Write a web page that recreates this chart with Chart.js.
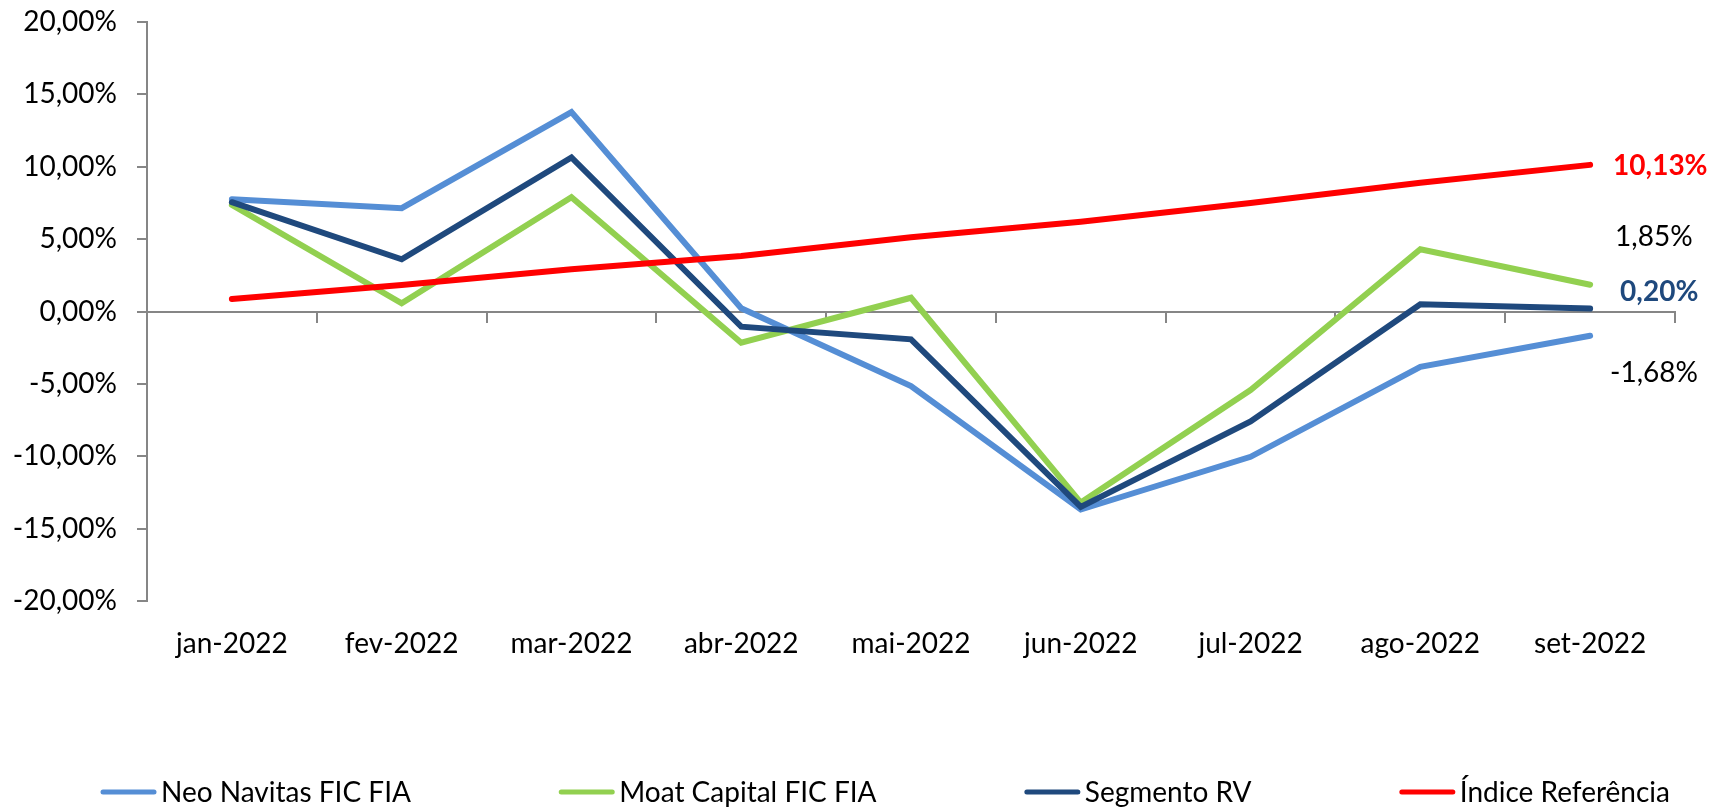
<!DOCTYPE html>
<html>
<head>
<meta charset="utf-8">
<script src="https://cdn.jsdelivr.net/npm/chart.js@4/dist/chart.umd.min.js"></script>
<style>
  html, body { margin: 0; padding: 0; background: #ffffff; }
  #wrap { width: 1725px; height: 808px; position: relative; }
</style>
</head>
<body>
<div id="wrap"><canvas id="c"></canvas></div>
<script>
// ---- data ----
const categories = ['jan-2022', 'fev-2022', 'mar-2022', 'abr-2022', 'mai-2022', 'jun-2022', 'jul-2022', 'ago-2022', 'set-2022'];
const seriesNames = ['Neo Navitas FIC FIA', 'Moat Capital FIC FIA', 'Segmento RV', 'Índice Referência'];
const neoNavitas = [7.76, 7.14, 13.78, 0.22, -5.15, -13.68, -10.04, -3.82, -1.68];
const moatCapital = [7.36, 0.57, 7.90, -2.16, 0.95, -13.20, -5.43, 4.30, 1.85];
const segmentoRV = [7.55, 3.61, 10.64, -1.05, -1.92, -13.50, -7.60, 0.50, 0.20];
const indiceRef = [0.86, 1.83, 2.92, 3.84, 5.13, 6.20, 7.50, 8.90, 10.13];
const yTickMin = -20, yTickMax = 20, yTickStep = 5;

// ---- styles ----
const FONT = 'Lato, "Open Sans", sans-serif';
const colors = ['#558ED5', '#92D050', '#1F497D', '#FF0000'];
const axisColor = '#868686';
const fmtPct = v => v.toFixed(2).replace('.', ',') + '%';

// end-of-line labels: offsets relative to last point
const endLabelStyle = [
  { dx: 20, dy: 37, bold: false, color: '#000000' },
  { dx: 25, dy: -48, bold: false, color: '#000000' },
  { dx: 30, dy: -17, bold: true, color: '#1F497D' },
  { dx: 23, dy: 1, bold: true, color: '#FF0000' }
];

const endLabels = {
  id: 'endLabels',
  afterDatasetsDraw(chart) {
    const ctx = chart.ctx;
    ctx.save();
    chart.data.datasets.forEach((ds, i) => {
      const meta = chart.getDatasetMeta(i);
      const pt = meta.data[meta.data.length - 1];
      const st = endLabelStyle[i];
      ctx.font = (st.bold ? 'bold ' : '') + '28px ' + FONT;
      ctx.fillStyle = st.color;
      ctx.textAlign = 'left';
      ctx.textBaseline = 'middle';
      ctx.fillText(fmtPct(ds.data[ds.data.length - 1]), pt.x + st.dx, pt.y + st.dy);
    });
    ctx.restore();
  }
};

const customLegend = {
  id: 'customLegend',
  afterDraw(chart) {
    const ctx = chart.ctx;
    const startX = 101, endX = 1670, lineY = 792, baseY = 802, sampleW = 55, gap = 5;
    ctx.save();
    ctx.font = '28px ' + FONT;
    const widths = chart.data.datasets.map(ds => ctx.measureText(ds.label).width);
    const total = widths.reduce((a, w) => a + sampleW + gap + w, 0);
    const inter = (endX - startX - total) / (widths.length - 1);
    let x = startX;
    chart.data.datasets.forEach((ds, i) => {
      ctx.strokeStyle = ds.borderColor;
      ctx.lineWidth = 5;
      ctx.lineCap = 'round';
      ctx.beginPath();
      ctx.moveTo(x + 2, lineY);
      ctx.lineTo(x + sampleW - 2, lineY);
      ctx.stroke();
      ctx.fillStyle = '#000000';
      ctx.textAlign = 'left';
      ctx.textBaseline = 'alphabetic';
      ctx.fillText(ds.label, x + sampleW + gap, baseY);
      x += sampleW + gap + widths[i] + inter;
    });
    ctx.restore();
  }
};

const seriesData = [neoNavitas, moatCapital, segmentoRV, indiceRef];
const drawOrder = [3, 2, 1, 0];

new Chart(document.getElementById('c'), {
  type: 'line',
  data: {
    labels: categories,
    datasets: seriesData.map((d, i) => ({
      label: seriesNames[i],
      data: d,
      borderColor: colors[i],
      backgroundColor: colors[i],
      borderWidth: 6,
      pointRadius: 0,
      pointHoverRadius: 0,
      tension: 0,
      fill: false,
      borderCapStyle: 'round',
      borderJoinStyle: 'miter',
      order: drawOrder[i],
      xAxisID: 'x',
      yAxisID: 'y'
    }))
  },
  options: {
    responsive: true,
    maintainAspectRatio: false,
    animation: false,
    events: [],
    layout: { padding: { top: 22, bottom: 147, left: 0, right: 50 } },
    plugins: {
      legend: { display: false },
      tooltip: { enabled: false },
      title: { display: false }
    },
    scales: {
      x: {
        type: 'category',
        position: { y: 0 },
        offset: true,
        grid: {
          display: true,
          offset: true,
          drawOnChartArea: false,
          drawTicks: true,
          tickLength: 10,
          color: axisColor,
          lineWidth: 2
        },
        border: { display: true, color: axisColor, width: 2 },
        ticks: { display: false }
      },
      x2: {
        type: 'category',
        position: 'bottom',
        offset: true,
        grid: { display: false, drawTicks: false },
        border: { display: false },
        ticks: {
          display: true,
          color: '#000000',
          font: { family: FONT, size: 28 },
          padding: 26,
          maxRotation: 0,
          autoSkip: false
        },
        afterFit: s => { s.height = 60; s.paddingLeft = 0; s.paddingRight = 0; }
      },
      y: {
        type: 'linear',
        position: 'left',
        min: yTickMin,
        max: yTickMax,
        grid: {
          display: true,
          drawOnChartArea: false,
          drawTicks: true,
          tickLength: 10,
          color: axisColor,
          lineWidth: 2
        },
        border: { display: true, color: axisColor, width: 2 },
        ticks: {
          stepSize: yTickStep,
          color: '#000000',
          font: { family: FONT, size: 28 },
          padding: 20,
          callback: v => fmtPct(v)
        },
        afterFit: s => { s.width = 147; s.paddingTop = 0; s.paddingBottom = 0; }
      }
    }
  },
  plugins: [endLabels, customLegend]
});
</script>
</body>
</html>
